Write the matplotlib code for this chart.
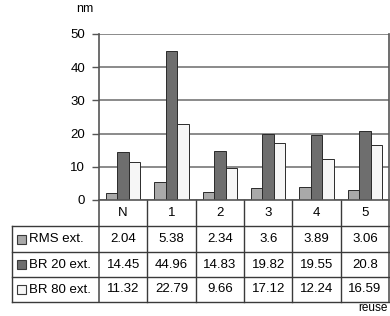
import matplotlib
matplotlib.use("Agg")
import numpy as np
import matplotlib.pyplot as plt

plt.rcParams.update({"font.family": ["Liberation Sans", "DejaVu Sans"], "font.size": 9})

# data
categories = ["N", "1", "2", "3", "4", "5"]
series = ["RMS ext.", "BR 20 ext.", "BR 80 ext."]
rms_ext = [2.04, 5.38, 2.34, 3.6, 3.89, 3.06]
br20_ext = [14.45, 44.96, 14.83, 19.82, 19.55, 20.8]
br80_ext = [11.32, 22.79, 9.66, 17.12, 12.24, 16.59]
rms_lbl = ["2.04", "5.38", "2.34", "3.6", "3.89", "3.06"]
br20_lbl = ["14.45", "44.96", "14.83", "19.82", "19.55", "20.8"]
br80_lbl = ["11.32", "22.79", "9.66", "17.12", "12.24", "16.59"]
yticks = [0, 10, 20, 30, 40, 50]

colors = ["#a9a9a9", "#6e6e6e", "#f6f6f6"]
W, H = 390, 316
PL, PR, PT, PB = 99, 389, 34, 200          # plot area in pixels
ROWS = [200, 226, 252, 277, 302]           # table row edges
TL = 12                                     # table left edge

fig = plt.figure(figsize=(W / 100, H / 100), dpi=100)
ax = fig.add_axes([PL / W, 1 - PB / H, (PR - PL) / W, (PB - PT) / H])
n = len(categories)
x = np.arange(n)
bw = 1 / 1.4 / 3
for k, (vals, c) in enumerate(zip([rms_ext, br20_ext, br80_ext], colors)):
    ax.bar(x + (k - 1) * bw, vals, bw, color=c, edgecolor="#2a2a2a", lw=0.7, zorder=3)
ax.set_xlim(-0.5, n - 0.5)
ax.set_ylim(0, 50)
ax.set_yticks(yticks)
ax.set_yticklabels([str(t) for t in yticks], fontsize=9.5)
ax.tick_params(axis="y", length=5, width=1, color="#555555", pad=5)
ax.set_xticks([])
ax.yaxis.grid(True, color="#8a8a8a", lw=1.4, zorder=0)
for s in ax.spines.values():
    s.set_visible(False)

# overlay in pixel coords for the data table
tab = fig.add_axes([0, 0, 1, 1], zorder=5)
tab.set_xlim(0, W); tab.set_ylim(H, 0); tab.axis("off")
tab.patch.set_alpha(0)
lc, lw = "#3a3a3a", 1.0
colx = np.linspace(PL, PR, n + 1)
tab.plot([PL, PL], [PT, ROWS[-1]], color="#555555", lw=1.2)
tab.plot([PR, PR], [PT, ROWS[-1]], color="#555555", lw=1.2)
for cx in colx[1:-1]:
    tab.plot([cx, cx], [PB, ROWS[-1]], color=lc, lw=lw)
tab.plot([PL, PR], [PB, PB], color="#555555", lw=1.2)
for ry in ROWS[1:]:
    tab.plot([TL, PR], [ry, ry], color=lc, lw=lw)
tab.plot([TL, TL], [ROWS[1], ROWS[-1]], color=lc, lw=lw)

mid = (colx[:-1] + colx[1:]) / 2
hy = (ROWS[0] + ROWS[1]) / 2
for cx, c in zip(mid, categories):
    tab.text(cx, hy, c, ha="center", va="center", fontsize=9.5)
for r, (name, labels, c) in enumerate(zip(series, [rms_lbl, br20_lbl, br80_lbl], colors)):
    ry = (ROWS[r + 1] + ROWS[r + 2]) / 2
    tab.add_patch(plt.Rectangle((17, ry - 4.5), 9, 9, facecolor=c, edgecolor="#3a3a3a", lw=0.8))
    tab.text(29, ry + 0.5, name, ha="left", va="center", fontsize=9.5)
    for cx, t in zip(mid, labels):
        tab.text(cx, ry, t, ha="center", va="center", fontsize=9.5)

tab.text(76, 9, "nm", ha="left", va="center", fontsize=9)
tab.text(388, 314, "reuse", ha="right", va="bottom", fontsize=8.5)

fig.savefig("out.png", dpi=100)
